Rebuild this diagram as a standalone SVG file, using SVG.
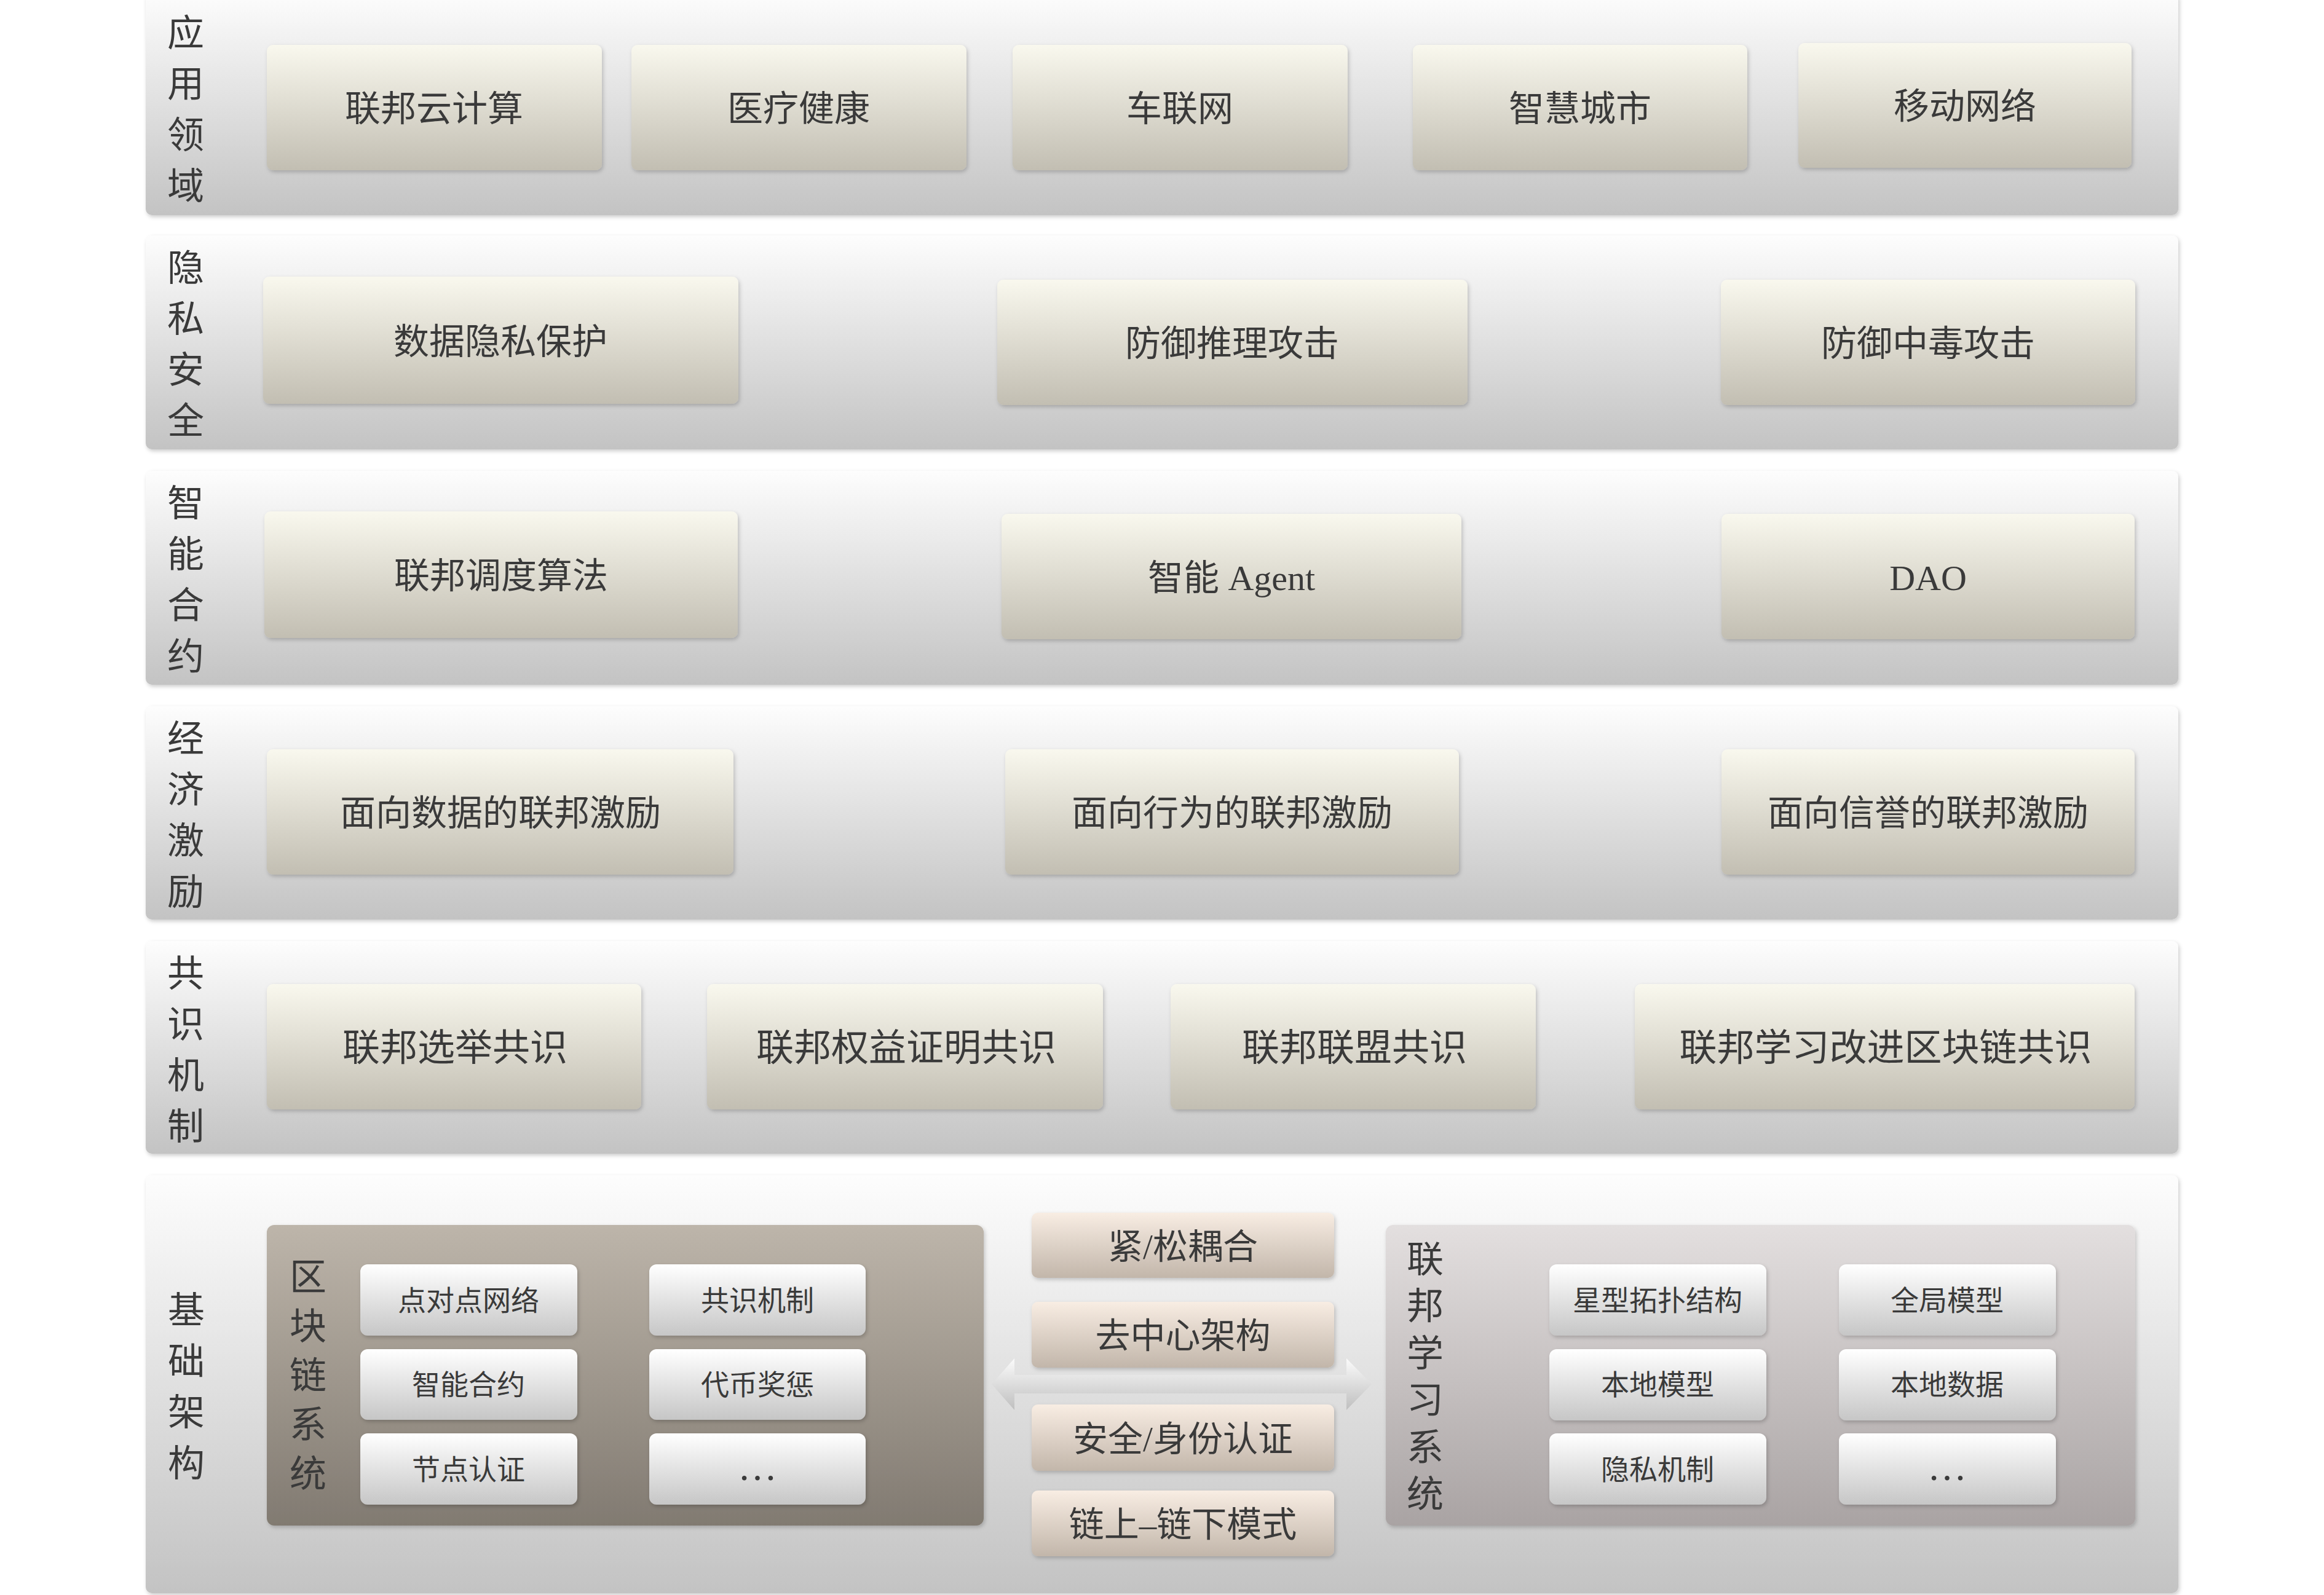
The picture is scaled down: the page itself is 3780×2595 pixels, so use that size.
<svg xmlns="http://www.w3.org/2000/svg" width="3780" height="2595" viewBox="0 0 3780 2595">
<defs>
<linearGradient id="gBand" x1="0" y1="0" x2="0" y2="1"><stop offset="0" stop-color="#fdfdfd"/><stop offset="1" stop-color="#c3c3c3"/></linearGradient>
<linearGradient id="gBox" x1="0" y1="0" x2="0" y2="1"><stop offset="0" stop-color="#f9f8ee"/><stop offset="1" stop-color="#c2beb2"/></linearGradient>
<linearGradient id="gMid" x1="0" y1="0" x2="0" y2="1"><stop offset="0" stop-color="#f8ede3"/><stop offset="1" stop-color="#c2b6aa"/></linearGradient>
<linearGradient id="gChain" x1="0" y1="0" x2="0" y2="1"><stop offset="0" stop-color="#bdb5aa"/><stop offset="1" stop-color="#817a71"/></linearGradient>
<linearGradient id="gFL" x1="0" y1="0" x2="0" y2="1"><stop offset="0" stop-color="#e3dfdf"/><stop offset="1" stop-color="#a9a3a3"/></linearGradient>
<linearGradient id="gWhite" x1="0" y1="0" x2="0" y2="1"><stop offset="0" stop-color="#ffffff"/><stop offset="1" stop-color="#c6c6c6"/></linearGradient>
<linearGradient id="gArrow" gradientUnits="userSpaceOnUse" x1="0" y1="2210" x2="0" y2="2294"><stop offset="0" stop-color="#fbfbfb"/><stop offset="1" stop-color="#bfbfbf"/></linearGradient>
<filter id="sh" x="-5%" y="-10%" width="110%" height="125%"><feDropShadow dx="2" dy="3" stdDeviation="3" flood-color="#000" flood-opacity="0.2"/></filter>
</defs>
<style>
.band{fill:url(#gBand);filter:url(#sh)}
.box{fill:url(#gBox);filter:url(#sh)}
.mid{fill:url(#gMid);filter:url(#sh)}
.wb{fill:url(#gWhite);filter:url(#sh)}
text{font-family:'Liberation Serif','Noto Sans CJK SC',serif;fill:#3a3a3a;text-anchor:middle;dominant-baseline:central}
.t{font-size:58px}
.tc{font-size:61px}
.tm{font-size:57px}
.ts{font-size:46px}
.dots{font-size:64px}
.lab{font-size:60px}
</style>
<rect width="3780" height="2595" fill="#ffffff"/>

<g id="band-app">
<rect class="band" x="237" y="-12" width="3306" height="362" rx="10"/>
<text class="lab"><tspan x="302" y="55">应</tspan><tspan x="302" y="138">用</tspan><tspan x="302" y="221">领</tspan><tspan x="302" y="304">域</tspan></text>
</g>
<g id="band-privacy">
<rect class="band" x="237" y="383" width="3306" height="348" rx="10"/>
<text class="lab"><tspan x="302" y="437">隐</tspan><tspan x="302" y="520">私</tspan><tspan x="302" y="603">安</tspan><tspan x="302" y="686">全</tspan></text>
</g>
<g id="band-contract">
<rect class="band" x="237" y="766" width="3306" height="348" rx="10"/>
<text class="lab"><tspan x="302" y="820">智</tspan><tspan x="302" y="903">能</tspan><tspan x="302" y="986">合</tspan><tspan x="302" y="1069">约</tspan></text>
</g>
<g id="band-incentive">
<rect class="band" x="237" y="1149" width="3306" height="347" rx="10"/>
<text class="lab"><tspan x="302" y="1203">经</tspan><tspan x="302" y="1286">济</tspan><tspan x="302" y="1369">激</tspan><tspan x="302" y="1452">励</tspan></text>
</g>
<g id="band-consensus">
<rect class="band" x="237" y="1531" width="3306" height="346" rx="10"/>
<text class="lab"><tspan x="302" y="1585">共</tspan><tspan x="302" y="1668">识</tspan><tspan x="302" y="1751">机</tspan><tspan x="302" y="1834">制</tspan></text>
</g>
<g id="band-infra">
<rect class="band" x="237" y="1912" width="3306" height="680" rx="10"/>
<text class="lab"><tspan x="303" y="2133">基</tspan><tspan x="303" y="2216">础</tspan><tspan x="303" y="2299">架</tspan><tspan x="303" y="2382">构</tspan></text>
</g>

<g id="n-cloud"><rect class="box" x="434" y="73" width="545" height="204" rx="10"/><text class="t" x="706" y="177">联邦云计算</text></g>
<g id="n-health"><rect class="box" x="1027" y="73" width="545" height="204" rx="10"/><text class="t" x="1299" y="177">医疗健康</text></g>
<g id="n-iov"><rect class="box" x="1647" y="73" width="545" height="204" rx="10"/><text class="t" x="1919" y="177">车联网</text></g>
<g id="n-city"><rect class="box" x="2298" y="73" width="544" height="204" rx="10"/><text class="t" x="2570" y="177">智慧城市</text></g>
<g id="n-mobile"><rect class="box" x="2925" y="70" width="542" height="203" rx="10"/><text class="t" x="3196" y="173">移动网络</text></g>

<g id="n-dataprivacy"><rect class="box" x="428" y="450" width="773" height="207" rx="10"/><text class="t" x="814" y="556">数据隐私保护</text></g>
<g id="n-inference"><rect class="box" x="1622" y="455" width="765" height="204" rx="10"/><text class="t" x="2004" y="559">防御推理攻击</text></g>
<g id="n-poison"><rect class="box" x="2799" y="455" width="674" height="204" rx="10"/><text class="t" x="3136" y="559">防御中毒攻击</text></g>

<g id="n-schedule"><rect class="box" x="430" y="832" width="770" height="206" rx="10"/><text class="t" x="815" y="937">联邦调度算法</text></g>
<g id="n-agent"><rect class="box" x="1629" y="836" width="748" height="204" rx="10"/><text class="t" x="2003" y="940">智能 Agent</text></g>
<g id="n-dao"><rect class="box" x="2800" y="836" width="672" height="204" rx="10"/><text class="t" x="3136" y="940">DAO</text></g>

<g id="n-inc-data"><rect class="box" x="434" y="1219" width="759" height="204" rx="10"/><text class="t" x="814" y="1323">面向数据的联邦激励</text></g>
<g id="n-inc-behavior"><rect class="box" x="1635" y="1219" width="738" height="204" rx="10"/><text class="t" x="2004" y="1323">面向行为的联邦激励</text></g>
<g id="n-inc-rep"><rect class="box" x="2800" y="1219" width="672" height="204" rx="10"/><text class="t" x="3136" y="1323">面向信誉的联邦激励</text></g>

<g id="n-election"><rect class="box" x="434" y="1601" width="609" height="204" rx="10"/><text class="tc" x="740" y="1705">联邦选举共识</text></g>
<g id="n-pos"><rect class="box" x="1150" y="1601" width="644" height="204" rx="10"/><text class="tc" x="1474" y="1705">联邦权益证明共识</text></g>
<g id="n-alliance"><rect class="box" x="1904" y="1601" width="594" height="204" rx="10"/><text class="tc" x="2203" y="1705">联邦联盟共识</text></g>
<g id="n-flchain"><rect class="box" x="2659" y="1601" width="813" height="204" rx="10"/><text class="tc" x="3067" y="1705">联邦学习改进区块链共识</text></g>

<g id="connectors">
<polygon points="1613,2252 1650,2210 1650,2237 2190,2237 2190,2210 2231,2252 2190,2294 2190,2267 1650,2267 1650,2294" fill="url(#gArrow)"/>
</g>

<g id="n-blockchain">
<rect x="434" y="1993" width="1166" height="489" rx="12" fill="url(#gChain)" filter="url(#sh)"/>
<text class="lab"><tspan x="501" y="2079">区</tspan><tspan x="501" y="2159">块</tspan><tspan x="501" y="2239">链</tspan><tspan x="501" y="2319">系</tspan><tspan x="501" y="2399">统</tspan></text>
</g>
<g id="n-p2p"><rect class="wb" x="586" y="2057" width="353" height="116" rx="12"/><text class="ts" x="762" y="2116">点对点网络</text></g>
<g id="n-consensus"><rect class="wb" x="1056" y="2057" width="352" height="116" rx="12"/><text class="ts" x="1232" y="2116">共识机制</text></g>
<g id="n-smart"><rect class="wb" x="586" y="2195" width="353" height="115" rx="12"/><text class="ts" x="762" y="2253">智能合约</text></g>
<g id="n-token"><rect class="wb" x="1056" y="2195" width="352" height="115" rx="12"/><text class="ts" x="1232" y="2253">代币奖惩</text></g>
<g id="n-auth"><rect class="wb" x="586" y="2332" width="353" height="116" rx="12"/><text class="ts" x="762" y="2391">节点认证</text></g>
<g id="n-bc-more"><rect class="wb" x="1056" y="2332" width="352" height="116" rx="12"/><text class="dots" x="1232" y="2386">…</text></g>

<g id="n-coupling"><rect class="mid" x="1678" y="1973" width="492" height="106" rx="10"/><text class="tm" x="1924" y="2028">紧/松耦合</text></g>
<g id="n-decentral"><rect class="mid" x="1678" y="2118" width="492" height="107" rx="10"/><text class="tm" x="1924" y="2173">去中心架构</text></g>
<g id="n-identity"><rect class="mid" x="1678" y="2285" width="492" height="108" rx="10"/><text class="tm" x="1924" y="2341">安全/身份认证</text></g>
<g id="n-onoff"><rect class="mid" x="1678" y="2425" width="492" height="107" rx="10"/><text class="tm" x="1924" y="2480">链上–链下模式</text></g>

<g id="n-fl">
<rect x="2254" y="1993" width="1219" height="489" rx="12" fill="url(#gFL)" filter="url(#sh)"/>
<text class="lab"><tspan x="2318" y="2050">联</tspan><tspan x="2318" y="2126">邦</tspan><tspan x="2318" y="2203">学</tspan><tspan x="2318" y="2279">习</tspan><tspan x="2318" y="2356">系</tspan><tspan x="2318" y="2432">统</tspan></text>
</g>
<g id="n-star"><rect class="wb" x="2520" y="2057" width="353" height="116" rx="12"/><text class="ts" x="2696" y="2116">星型拓扑结构</text></g>
<g id="n-global"><rect class="wb" x="2991" y="2057" width="353" height="116" rx="12"/><text class="ts" x="3167" y="2116">全局模型</text></g>
<g id="n-localmodel"><rect class="wb" x="2520" y="2195" width="353" height="116" rx="12"/><text class="ts" x="2696" y="2253">本地模型</text></g>
<g id="n-localdata"><rect class="wb" x="2991" y="2195" width="353" height="116" rx="12"/><text class="ts" x="3167" y="2253">本地数据</text></g>
<g id="n-privmech"><rect class="wb" x="2520" y="2332" width="353" height="116" rx="12"/><text class="ts" x="2696" y="2391">隐私机制</text></g>
<g id="n-fl-more"><rect class="wb" x="2991" y="2332" width="353" height="116" rx="12"/><text class="dots" x="3167" y="2386">…</text></g>
</svg>
